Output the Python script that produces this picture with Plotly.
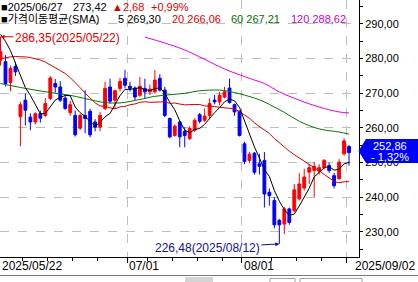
import plotly.graph_objects as go

# ---------------- data ----------------
dates = [
    "2025-05-22", "2025-05-23", "2025-05-26", "2025-05-27", "2025-05-28", "2025-05-29", "2025-05-30",
    "2025-06-02", "2025-06-04", "2025-06-05", "2025-06-09", "2025-06-10", "2025-06-11", "2025-06-12",
    "2025-06-13", "2025-06-16", "2025-06-17", "2025-06-18", "2025-06-19", "2025-06-20", "2025-06-23",
    "2025-06-24", "2025-06-25", "2025-06-26", "2025-06-27", "2025-06-30",
    "2025-07-01", "2025-07-02", "2025-07-03", "2025-07-04", "2025-07-07", "2025-07-08", "2025-07-09",
    "2025-07-10", "2025-07-11", "2025-07-14", "2025-07-15", "2025-07-16", "2025-07-17", "2025-07-18",
    "2025-07-21", "2025-07-22", "2025-07-23", "2025-07-24", "2025-07-25", "2025-07-28", "2025-07-29",
    "2025-07-30", "2025-07-31",
    "2025-08-01", "2025-08-04", "2025-08-05", "2025-08-06", "2025-08-07", "2025-08-08", "2025-08-11",
    "2025-08-12", "2025-08-13", "2025-08-14", "2025-08-18", "2025-08-19", "2025-08-20", "2025-08-21",
    "2025-08-22", "2025-08-25", "2025-08-26", "2025-08-27", "2025-08-28", "2025-08-29",
    "2025-09-01", "2025-09-02",
]

opens = [279.5, 279.1, 273.1, 277.7, 263.2, 268.0, 263.1, 261.7, 264.1, 263.6,
         268.5, 272.8, 271.8, 268.6, 264.4, 263.6, 259.9, 263.6, 264.8, 261.7,
         260.2, 265.6, 271.8, 268.0, 271.4, 274.3, 272.0, 271.5, 269.4, 271.4,
         270.4, 270.4, 274.3, 270.9, 262.7, 257.8, 261.7, 259.0, 256.9, 259.3,
         263.8, 262.2, 263.6, 268.0, 267.5, 268.9, 271.5, 266.7, 264.8, 255.4,
         250.6, 252.7, 249.6, 250.6, 241.4, 239.0, 233.3, 232.2, 236.6, 236.1,
         239.5, 242.6, 247.2, 247.7, 247.5, 248.5, 249.1, 246.2, 245.3, 252.5,
         254.6]
highs = [286.35, 281.0, 278.0, 279.0, 267.5, 269.9, 264.2, 264.5, 265.0, 268.6,
         275.0, 274.1, 273.5, 269.5, 267.8, 265.0, 264.0, 270.9, 265.5, 262.5,
         264.6, 273.3, 274.2, 271.0, 274.5, 276.7, 273.3, 272.0, 274.7, 274.2,
         272.5, 276.7, 275.5, 271.8, 263.0, 261.0, 262.0, 260.2, 260.5, 262.8,
         264.3, 265.6, 268.5, 269.5, 270.4, 271.8, 274.2, 267.0, 265.0, 256.0,
         253.0, 253.0, 252.5, 253.0, 242.5, 240.0, 233.7, 237.2, 237.0, 243.8,
         246.9, 248.2, 249.6, 250.1, 249.5, 251.0, 250.0, 247.0, 251.0, 257.0,
         255.0]
lows = [278.0, 272.0, 270.6, 275.0, 254.7, 260.7, 259.3, 261.0, 261.5, 263.1,
        268.0, 270.2, 267.5, 265.2, 263.5, 257.5, 259.3, 258.4, 257.3, 259.0,
        259.0, 265.1, 267.0, 265.6, 270.5, 271.4, 270.5, 268.0, 268.9, 268.5,
        269.5, 269.9, 270.5, 263.1, 257.0, 257.5, 254.4, 254.4, 256.5, 258.8,
        261.3, 261.7, 262.7, 266.8, 266.5, 268.5, 267.0, 263.5, 257.5, 249.5,
        249.8, 246.5, 246.5, 237.0, 237.5, 231.0, 226.48, 229.3, 232.0, 235.6,
        239.0, 241.9, 243.8, 240.0, 246.5, 248.0, 247.0, 242.5, 245.0, 252.0,
        249.1]
closes = [282.0, 272.8, 277.2, 276.2, 266.7, 265.1, 261.7, 264.1, 262.8, 267.0,
          274.4, 271.8, 268.0, 265.6, 266.7, 258.0, 263.6, 262.7, 258.0, 260.2,
          263.6, 271.4, 267.7, 270.74, 273.42, 272.3, 271.4, 268.9, 272.0, 270.4,
          271.2, 273.8, 270.9, 263.6, 257.4, 260.5, 257.4, 257.8, 259.8, 262.2,
          261.9, 263.4, 267.0, 267.5, 269.4, 270.4, 267.3, 264.6, 257.8, 250.3,
          252.4, 247.2, 248.9, 240.9, 240.4, 232.0, 232.0, 236.6, 232.7, 242.1,
          243.8, 245.8, 248.5, 248.9, 248.5, 250.6, 247.7, 243.3, 250.1, 256.24,
          252.86]

ma5 = [287.0, 285.0, 282.3, 278.8, 274.98, 271.6, 269.4, 266.76, 264.08, 264.14,
       266.0, 268.02, 268.8, 269.36, 269.3, 266.02, 264.38, 263.32, 261.8, 260.5,
       261.62, 263.18, 264.18, 266.73, 269.3, 271.11, 271.11, 271.35, 271.6, 271.0,
       270.78, 271.26, 271.66, 269.98, 267.38, 265.24, 261.96, 259.34, 258.58, 259.54,
       259.82, 261.02, 262.86, 264.4, 265.84, 267.54, 268.32, 267.84, 265.9, 262.08,
       258.48, 254.46, 251.32, 247.94, 245.96, 241.88, 238.84, 236.38, 234.74, 235.08,
       237.44, 240.2, 242.58, 245.82, 247.1, 248.46, 248.84, 247.8, 248.04, 249.59,
       250.04]
ma20 = [280.0, 280.3, 280.5, 280.6, 280.6, 280.5, 280.3, 280.0, 279.6, 279.0,
        278.2, 277.5, 276.7, 275.7, 274.5, 273.1, 271.6, 270.0, 268.6, 267.23,
        266.31, 266.24, 265.77, 265.49, 266.06, 266.19, 266.67, 266.91, 267.37, 267.54,
        267.38, 267.48, 267.63, 267.53, 267.06, 267.19, 266.88, 266.63, 266.72, 266.82,
        266.74, 266.34, 266.3, 266.14, 265.94, 265.85, 265.64, 265.43, 264.72, 263.71,
        262.77, 261.44, 260.34, 259.2, 258.36, 256.93, 255.66, 254.6, 253.25, 252.24,
        251.34, 250.46, 249.53, 248.6, 247.56, 246.57, 245.59, 244.52, 244.14, 244.43,
        244.46]
ma60_at = [0, 5, 10, 14, 19, 21, 24, 28, 31, 37, 40, 44, 47, 51, 53, 55, 57, 60, 64, 68, 70]
ma60 = [272.8, 271.4, 270.2, 269.4, 267.8, 267.3, 267.21, 268.2, 269.1, 270.0, 270.7,
        270.9, 270.2, 268.6, 267.5, 266.0, 264.5, 261.9, 259.7, 258.8, 258.2]
ma120_at = [29, 33, 37, 40, 45, 50, 53, 56, 60, 64, 68, 70]
ma120 = [286.2, 284.5, 282.5, 280.5, 277.0, 274.3, 272.8, 270.4, 268.0, 266.0, 264.6, 264.3]

y_ticks = [230, 240, 250, 260, 270, 280, 290]
y_minor = [225, 235, 245, 255, 265, 275, 285, 295]
month_marks = [("2025-07-01", "07/01"), ("2025-08-01", "08/01")]

header_date = "2025/06/27"
header_close = 273.42
header_chg = 2.68
header_pct = 0.99
header_ma = [("5", 269.30), ("20", 266.06), ("60", 267.21), ("120", 288.62)]

# ---------------- styling ----------------
RED = "#FF0000"
BLUE = "#0000FF"
MA_COLORS = ["#000000", "#D40000", "#007800", "#E000E0"]
TXT_COLORS = ["#000000", "#E00000", "#007000", "#C800C8"]
NAVY = "#1010A0"
GRID = "#BDBDBD"
FONT = "Liberation Sans, Arial, Noto Sans CJK KR, sans-serif"

W, H = 418, 282
PL_R, PL_B = 359, 257   # plot area right edge / bottom edge in px


def fmt(v):
    return f"{v:,.2f}".replace(",", "X").replace(".", ",").replace("X", ".")


def px(p):
    return p / PL_R


def py(p):
    return (PL_B - p) / PL_B


x = list(range(len(dates)))

fig = go.Figure()
fig.add_trace(go.Candlestick(
    x=x, open=opens, high=highs, low=lows, close=closes,
    increasing=dict(line=dict(color=RED, width=1), fillcolor=RED),
    decreasing=dict(line=dict(color=BLUE, width=1), fillcolor=BLUE),
    whiskerwidth=0, hoverinfo="skip", showlegend=False,
))
fig.add_trace(go.Scatter(x=x, y=ma20, mode="lines",
                         line=dict(color=MA_COLORS[1], width=1), hoverinfo="skip"))
fig.add_trace(go.Scatter(x=ma60_at, y=ma60, mode="lines",
                         line=dict(color=MA_COLORS[2], width=1, shape="spline"), hoverinfo="skip"))
fig.add_trace(go.Scatter(x=ma120_at, y=ma120, mode="lines",
                         line=dict(color=MA_COLORS[3], width=1, shape="spline"), hoverinfo="skip"))
fig.add_trace(go.Scatter(x=x, y=ma5, mode="lines",
                         line=dict(color=MA_COLORS[0], width=1), hoverinfo="skip"))

n = len(dates)
grid_x = [dates.index(d) - 0.5 for d, _ in month_marks] + [n - 1 - 0.5]
minor_x = [i - 0.5 for i in range(n - 1, 0, -5) if all(abs(i - 0.5 - g) > 2 for g in grid_x)]

HDR = 11
ann = []
# header line 1
ann += [
    dict(text="■" + header_date, x=px(0), y=py(6.5), color="#000000"),
    dict(text=fmt(header_close), x=px(72), y=py(6.5), color="#000000"),
    dict(text="▲" + fmt(header_chg), x=px(111), y=py(6.5), color=TXT_COLORS[1]),
    dict(text="+" + fmt(header_pct) + "%", x=px(150), y=py(6.5), color=TXT_COLORS[1]),
]
# header line 2
ma_x = [117, 171, 230, 290]
ann.append(dict(text="■가격이동평균(SMA)", x=px(0), y=py(19.5), color="#000000"))
for (lbl, val), xx, col in zip(header_ma, ma_x, TXT_COLORS):
    ann.append(dict(text=f"{lbl} {fmt(val)}", x=px(xx), y=py(19.5), color=col))

annotations = []
for a in ann:
    annotations.append(dict(text=a["text"], x=a["x"], y=a["y"], xref="paper", yref="paper",
                            xanchor="left", yanchor="middle", showarrow=False, borderpad=0,
                            font=dict(family=FONT, size=HDR, color=a["color"])))

# x-axis date labels
annotations.append(dict(text=dates[0].replace("-", "/"), x=0, y=py(266), xref="paper", yref="paper",
                        xanchor="left", yanchor="middle", showarrow=False,
                        font=dict(family=FONT, size=12, color="#000000")))
for d, lbl in month_marks:
    annotations.append(dict(text=lbl, x=dates.index(d) - 0.5, y=py(266), xref="x", yref="paper",
                            xanchor="left", yanchor="middle", showarrow=False, xshift=0,
                            font=dict(family=FONT, size=12, color="#000000")))
annotations.append(dict(text=dates[-1].replace("-", "/"), x=px(417), y=py(266), xref="paper", yref="paper",
                        xanchor="right", yanchor="middle", showarrow=False,
                        font=dict(family=FONT, size=12, color="#000000")))

# high / low markers
hi = highs.index(max(highs))
lo = lows.index(min(lows))
annotations.append(dict(text=f"{fmt(highs[hi])}({dates[hi].replace('-', '/')})",
                        x=hi, y=highs[hi], xref="x", yref="y", showarrow=True,
                        ax=67, ay=1, arrowhead=2, arrowsize=0.8, arrowwidth=1, arrowcolor=TXT_COLORS[1],
                        standoff=0, font=dict(family=FONT, size=12, color=TXT_COLORS[1])))
annotations.append(dict(text=f"{fmt(lows[lo])}({dates[lo].replace('-', '/')})",
                        x=lo, y=lows[lo], xref="x", yref="y", showarrow=True,
                        ax=-72, ay=4, arrowhead=2, arrowsize=0.8, arrowwidth=1, arrowcolor=NAVY,
                        standoff=0, font=dict(family=FONT, size=12, color=NAVY)))

# last price box
last = closes[-1]
pct = (closes[-1] / closes[-2] - 1) * 100
annotations.append(dict(text=fmt(last), x=px(390), y=last, xref="paper", yref="y",
                        xanchor="center", yanchor="middle", yshift=6.5, showarrow=False, borderpad=0,
                        font=dict(family=FONT, size=11, color="#FFFFFF")))
annotations.append(dict(text="- " + fmt(abs(pct)) + "%", x=px(390), y=last, xref="paper", yref="y",
                        xanchor="center", yanchor="middle", yshift=-4.5, showarrow=False, borderpad=0,
                        font=dict(family=FONT, size=11, color="#FFFFFF")))

box_top, box_bot, box_tip = 3.9, 3.0, 0.45
shapes = [
    dict(type="path", xref="paper", yref="y", layer="above",
         path=(f"M {px(358.5)},{last + box_tip} L {px(366)},{last + box_top} L {px(418)},{last + box_top} "
               f"L {px(418)},{last - box_bot} L {px(366)},{last - box_bot} Z"),
         fillcolor=BLUE, line=dict(width=0)),
    # bottom scrollbar strip
    dict(type="line", xref="paper", yref="paper", x0=0, x1=px(418), y0=py(275.5), y1=py(275.5),
         line=dict(color="#7A7A7A", width=1)),
    dict(type="rect", xref="paper", yref="paper", x0=px(185), x1=px(213), y0=py(282), y1=py(277),
         fillcolor="#D4D4D4", line=dict(width=0)),
    dict(type="rect", xref="paper", yref="paper", x0=px(270), x1=px(295), y0=py(283), y1=py(278.5),
         fillcolor="rgba(0,0,0,0)", line=dict(color="#A0A0A0", width=1)),
    dict(type="rect", xref="paper", yref="paper", x0=px(300), x1=px(362), y0=py(283), y1=py(278.5),
         fillcolor="rgba(0,0,0,0)", line=dict(color="#A0A0A0", width=1)),
]

fig.update_layout(
    width=W, height=H,
    margin=dict(l=0, r=W - PL_R, t=0, b=H - PL_B, pad=0),
    paper_bgcolor="white", plot_bgcolor="white",
    showlegend=False, separators=",.",
    boxgap=0.25, boxgroupgap=0.25,
    hovermode=False,
    annotations=annotations, shapes=shapes,
    xaxis=dict(
        range=[-0.1, 72.0], rangeslider=dict(visible=False),
        tickmode="array", tickvals=grid_x, showticklabels=False,
        ticks="outside", ticklen=5, tickcolor="#000000",
        showgrid=True, gridcolor=GRID, griddash="dash", gridwidth=1,
        minor=dict(tickmode="array", tickvals=minor_x, ticks="outside", ticklen=3,
                   tickcolor="#000000", showgrid=False),
        showline=True, linecolor="#000000", linewidth=1, zeroline=False, fixedrange=True,
    ),
    yaxis=dict(
        side="right", range=[222.7, 296.93],
        tickmode="array", tickvals=y_ticks, tickformat=".2f",
        ticks="outside", ticklen=3, tickcolor="#000000",
        tickfont=dict(family=FONT, size=11, color="#000000"),
        showgrid=True, gridcolor=GRID, griddash="dash", gridwidth=1,
        minor=dict(tickmode="array", tickvals=y_minor, ticks="outside", ticklen=3,
                   tickcolor="#000000", showgrid=False),
        showline=True, linecolor="#000000", linewidth=1, zeroline=False, fixedrange=True,
    ),
)

fig.write_html("out.html", config={"displayModeBar": False, "staticPlot": True})
